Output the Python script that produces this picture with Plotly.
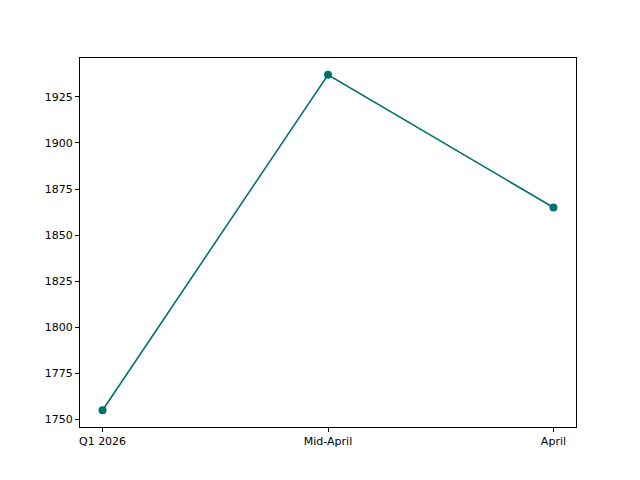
import plotly.graph_objects as go

labels = ["Q1 2026", "Mid-April", "April"]
values = [1755, 1937, 1865]
y_ticks = [1750, 1775, 1800, 1825, 1850, 1875, 1900, 1925]

color = "#007070"

fig = go.Figure(
    go.Scatter(
        x=[0, 1, 2],
        y=values,
        mode="lines+markers",
        line=dict(color=color, width=1.6),
        marker=dict(color=color, size=8),
    )
)

axis_style = dict(
    showgrid=False,
    zeroline=False,
    showline=True,
    linecolor="black",
    linewidth=1,
    mirror=True,
    ticks="outside",
    ticklen=4,
    tickcolor="black",
    tickfont=dict(family="DejaVu Sans", size=11, color="black"),
)

span = max(values) - min(values)
fig.update_xaxes(
    range=[-0.1, 2.1],
    tickvals=[0, 1, 2],
    ticktext=labels,
    **axis_style,
)
fig.update_yaxes(
    range=[min(values) - span * 0.05, max(values) + span * 0.05],
    tickvals=y_ticks,
    **axis_style,
)

# page adds ~8px offset, so shift margins to compensate
fig.update_layout(
    width=640,
    height=480,
    margin=dict(l=72, r=72, t=50, b=61),
    plot_bgcolor="white",
    paper_bgcolor="white",
    showlegend=False,
)

fig.write_html("out.html")
